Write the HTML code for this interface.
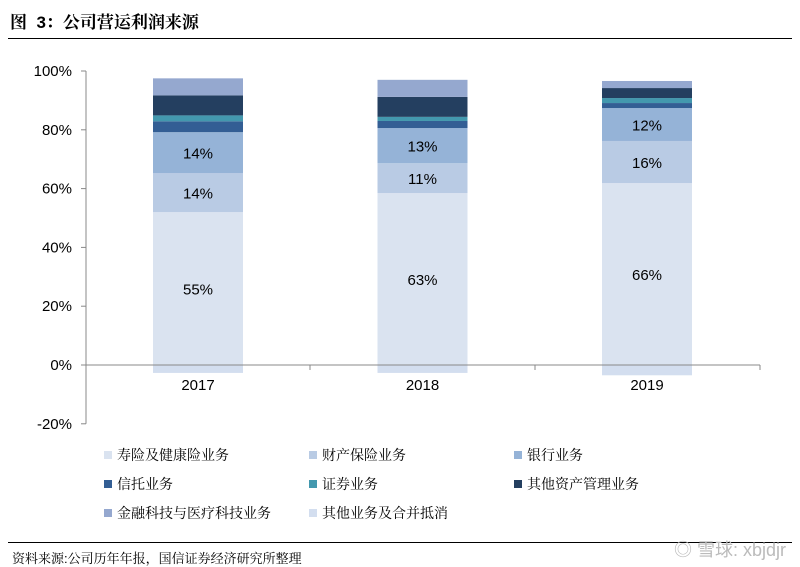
<!DOCTYPE html>
<html><head><meta charset="utf-8"><style>
body{margin:0;width:800px;height:567px;background:#fff;font-family:"Liberation Sans","Noto Sans CJK SC",sans-serif;overflow:hidden;position:relative}
.t{position:absolute;left:10px;top:8px;font-size:17px;font-weight:bold;color:#000;font-family:"Liberation Sans","Noto Serif CJK SC",serif}
.hl{position:absolute;left:8px;right:8px;height:1px;background:#000}
.src{position:absolute;left:12px;top:548px;font-size:13px;font-family:"Liberation Sans","Noto Serif CJK SC",serif}
.wm{position:absolute;right:14px;top:536px;font-size:18px;color:#bbb}
</style></head><body>
<div class="t">图&nbsp; 3：公司营运利润来源</div>
<div class="hl" style="top:38px"></div>
<svg width="800" height="567" style="position:absolute;left:0;top:0" id="c"></svg>
<div class="hl" style="top:542px"></div>
<div class="src">资料来源:公司历年年报，国信证券经济研究所整理</div>
<div class="wm">◎ 雪球: xbjdjr</div>
<script>
const categories=["2017","2018","2019"];
const seriesNames=["寿险及健康险业务","财产保险业务","银行业务","信托业务","证券业务","其他资产管理业务","金融科技与医疗科技业务","其他业务及合并抵消"];
const life=[52.0,58.5,61.9];
const property=[13.3,10.2,14.3];
const bank=[13.9,11.9,11.2];
const trust=[3.7,2.4,1.7];
const securities=[2.0,1.4,1.7];
const assetMgmt=[6.8,6.8,3.4];
const fintech=[5.8,5.8,2.4];
const other=[-2.7,-2.7,-3.5];
const lifeLabels=["55%","63%","66%"];
const propertyLabels=["14%","11%","16%"];
const bankLabels=["14%","13%","12%"];
const yTicks=[-20,0,20,40,60,80,100];
const colors=["#dae3f0","#b9cbe4","#95b3d7","#335e94","#4398ae","#243f60","#95a8cf","#d3deef"];
const series=[life,property,bank,trust,securities,assetMgmt,fintech,other];
const svg=document.getElementById('c');const NS="http://www.w3.org/2000/svg";
const y=v=>365-v*2.94;const x=i=>198+i*224.5;const bw=90;
function mk(t,a){const e=document.createElementNS(NS,t);for(const k in a)e.setAttribute(k,a[k]);svg.appendChild(e);return e;}
const ax=mk('line',{x1:86,x2:86,y1:y(100),y2:y(-20),stroke:'#888'});


yTicks.forEach(v=>{const tk=mk('line',{x1:81,x2:86,y1:y(v),y2:y(v),stroke:'#888'});


const tx=mk('text',{x:72,y:y(v)+5,'text-anchor':'end','font-size':15});tx.textContent=v+'%';

});
categories.forEach((c,i)=>{let pos=0;
series.forEach((s,j)=>{const v=s[i];let y0,y1;
if(v>=0){y0=pos;y1=pos+v;pos+=v;}else{y0=v;y1=0;}
const r=mk('rect',{x:x(i)-bw/2,y:y(y1),width:bw,height:y(y0)-y(y1),fill:colors[j]});

});
const labs=[[lifeLabels,0,life[i]],[propertyLabels,life[i],property[i]],[bankLabels,life[i]+property[i],bank[i]]];
labs.forEach(([L,b,h])=>{const t=mk('text',{x:x(i),y:y(b+h/2)+6,'text-anchor':'middle','font-size':15});t.textContent=L[i];

});
const xl=mk('text',{x:x(i),y:y(0)+25,'text-anchor':'middle','font-size':15});xl.textContent=c;

});
const xa=mk('line',{x1:86,x2:760,y1:y(0),y2:y(0),stroke:'#888'});


[86,310,535,760].forEach(px=>{const t=mk('line',{x1:px,x2:px,y1:y(0),y2:y(0)+5,stroke:'#888'});

});
seriesNames.forEach((n,k)=>{const lx=104+(k%3)*205, ly=456+Math.floor(k/3)*29;
const sq=mk('rect',{x:lx,y:ly-5,width:8,height:8,fill:colors[k]});


const t=mk('text',{x:lx+13,y:ly+4,'font-size':14,'font-family':'"Liberation Serif","Noto Serif CJK SC",serif'});t.textContent=n;

});
</script>
</body></html>
